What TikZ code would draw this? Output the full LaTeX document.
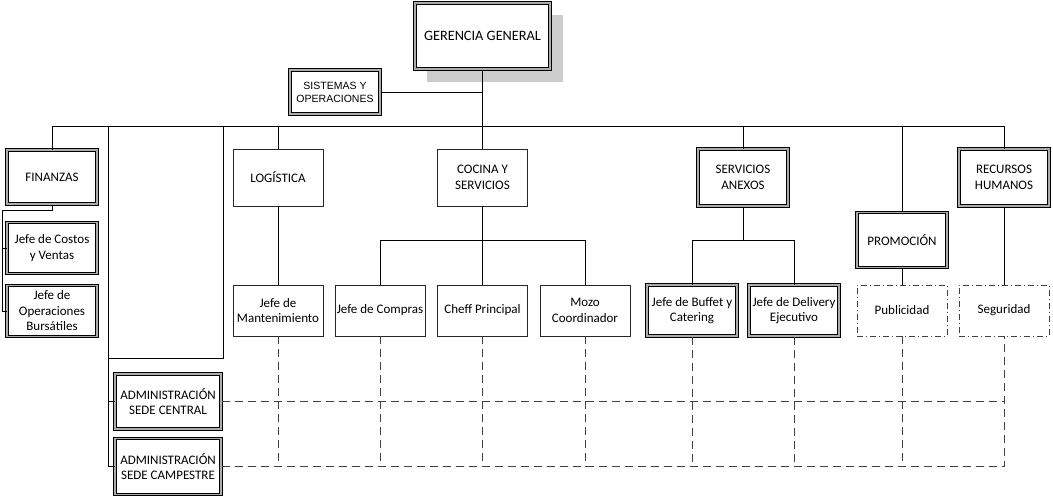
\documentclass[tikz,border=0pt]{standalone}
\usepackage{fontspec}
\setmainfont{Carlito}
\newfontfamily\arialfont{Liberation Sans}
\usetikzlibrary{calc,backgrounds}
\tikzset{
  box/.style={draw=black!85, line width=0.8pt, align=center, fill=white, minimum width=90pt, minimum height=51pt, inner sep=1pt, font=\fontsize{13}{15.5}\selectfont},
  dbox/.style={box, draw=black, line width=1pt, double=gray!65, double distance=1.2pt},
  dotbox/.style={box, draw=black!75, dash pattern=on 6pt off 3pt on 1pt off 3pt},
  ln/.style={draw=black, line width=0.9pt},
  dsh/.style={draw=black!75, line width=0.9pt, dash pattern=on 8pt off 5pt}}

\begin{document}
\begin{tikzpicture}[x=1pt, y=-1pt]
  \useasboundingbox (0,0) rectangle (1053,498);
  % top
  \node[dbox, minimum width=135pt, minimum height=66pt, font=\fontsize{14.3}{17}\selectfont] (ger) at (482.5,36) {GERENCIA GENERAL};
  \begin{scope}[on background layer]
    \fill[gray!40] ($(ger.south west)+(12,12)$) rectangle ($(ger.north east)+(12,12)$);
  \end{scope}
  \node[dbox, minimum height=44pt, font=\arialfont\fontsize{10.5}{13}\selectfont] (sis) at (335,92) {SISTEMAS Y\\OPERACIONES};
  \coordinate (bus) at (0,126);
  \coordinate (cb) at (0,240);
  % first row
  \node[dbox, minimum height=54pt] (fin) at (52,177) {FINANZAS};
  \node[dbox] (cos) at (52,248) {Jefe de Costos\\y Ventas};
  \node[dbox] (ope) at (52,311) {Jefe de\\Operaciones\\Bursátiles};
  \node[box, minimum height=57pt] (log) at (278,177.5) {LOGÍSTICA};
  \node[box, minimum height=57pt] (coc) at (482.5,177.5) {COCINA Y\\SERVICIOS};
  \node[dbox, minimum height=57pt] (sa) at (743,177.5) {SERVICIOS\\ANEXOS};
  \node[dbox, minimum height=57pt] (rh) at (1004,177.5) {RECURSOS\\HUMANOS};
  \node[dbox, minimum height=55pt] (pro) at (902,240) {PROMOCIÓN};
  % second row
  \node[box] (man) at (278,310.5) {Jefe de\\Mantenimiento};
  \node[box] (com) at (380,310.5) {Jefe de Compras};
  \node[box] (che) at (482.5,310.5) {Cheff Principal};
  \node[box] (moz) at (585,310.5) {Mozo\\Coordinador};
  \node[dbox] (buf) at (692,310.5) {Jefe de Buffet y\\Catering};
  \node[dbox] (del) at (794,310.5) {Jefe de Delivery\\Ejecutivo};
  \node[dotbox] (pub) at (902,310.5) {Publicidad};
  \node[dotbox] (seg) at (1004,310.5) {Seguridad};
  % sedes
  \node[dbox, minimum width=106pt, minimum height=55pt] (adc) at (168,401.5) {ADMINISTRACIÓN\\SEDE CENTRAL};
  \node[dbox, minimum width=106pt, minimum height=56pt] (adp) at (168,466.5) {ADMINISTRACIÓN\\SEDE CAMPESTRE};
  % solid lines
  \draw[ln] (ger.south) -- (ger.south |- bus);
  \draw[ln] (sis.east) -- (sis.east -| ger.south);
  \draw[ln] (fin.north) -- (fin.north |- bus) -| (rh.north);
  \foreach \n in {log,coc,sa,pro} \draw[ln] (\n.north) -- (\n.north |- bus);
  \coordinate (fk) at (2,210);
  \draw[ln] (fin.south) |- (fk) |- (ope.west);
  \draw[ln] (fk |- cos.west) -- (cos.west);
  \coordinate (lv) at (108,126);
  \coordinate (rv) at (223,126);
  \coordinate (lk) at (108,358);
  \draw[ln] (lv) |- (adp.west);
  \draw[ln] (lv |- adc.west) -- (adc.west);
  \draw[ln] (rv) |- (lk);
  \draw[ln] (log.south) -- (man.north);
  \draw[ln] (coc.south) -- (che.north);
  \draw[ln] (com.north) -- (com.north |- cb) -| (moz.north);
  \draw[ln] (sa.south) -- (sa.south |- cb);
  \draw[ln] (buf.north) -- (buf.north |- cb) -| (del.north);
  \draw[ln] (pro.south) -- (pub.north);
  \draw[ln] (rh.south) -- (seg.north);
  % dashed lines
  \draw[dsh] (adc.east) -- (adc.east -| seg.south);
  \draw[dsh] (adp.east) -| (seg.south);
  \foreach \n in {man,com,che,moz,buf,del,pub} \draw[dsh] (\n.south) -- (\n.south |- adp.east);
\end{tikzpicture}
\end{document}
